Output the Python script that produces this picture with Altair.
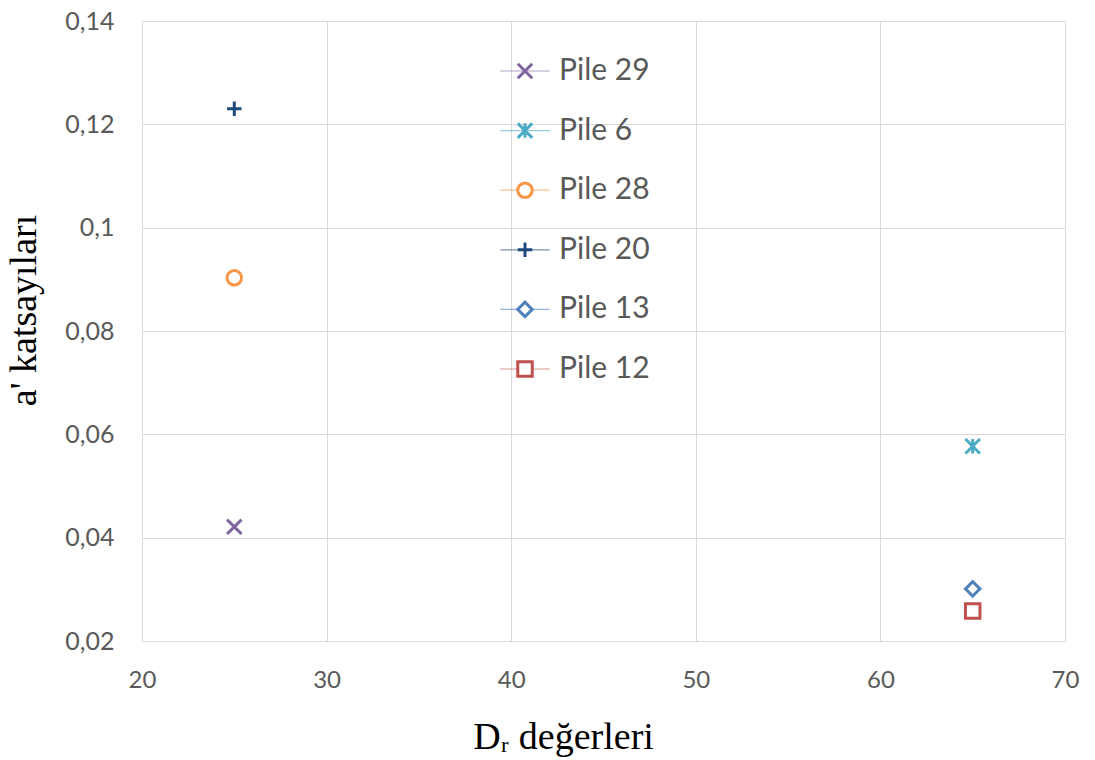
import altair as alt
import pandas as pd

series = ["Pile 29", "Pile 6", "Pile 28", "Pile 20", "Pile 13", "Pile 12"]
dr_values = [25, 65, 25, 25, 65, 65]
a_values = [0.0421, 0.0577, 0.0903, 0.1230, 0.0301, 0.0258]
colors = ["#8064a2", "#4bacc6", "#f79646", "#1f497d", "#4f81bd", "#c0504d"]
shapes = [
    "M-1,-1L1,1M-1,1L1,-1",
    "M-1,-1L1,1M-1,1L1,-1M0,-1L0,1",
    "circle",
    "M-1,0L1,0M0,-1L0,1",
    "diamond",
    "square",
]
line_shapes = [
    "M-3.4,0L3.4,0",
    "M-3.4,0L3.4,0",
    "M-3.4,0L-1,0M1,0L3.4,0",
    "M-3.4,0L3.4,0",
    "M-3.4,0L-1,0M1,0L3.4,0",
    "M-3.4,0L-1,0M1,0L3.4,0",
]
x_ticks = [20, 30, 40, 50, 60, 70]
y_ticks = [0.02, 0.04, 0.06, 0.08, 0.10, 0.12, 0.14]

df = pd.DataFrame({"series": series, "dr": dr_values, "a": a_values})

LEG_X = 368
LEG_Y = 35
ROW_PAD = 29.6
LABEL_FONT = "Lato"
LEG_FS = 30
MARK_SIZE = 210
MARK_SW = 3

x_enc = alt.X(
    "dr:Q",
    scale=alt.Scale(domain=[20, 70], nice=False, zero=False),
    axis=alt.Axis(
        values=x_ticks,
        title="Dᵣ değerleri",
        titleFont="Liberation Serif",
        titleFontSize=38,
        titleFontWeight="normal",
        titleColor="#000000",
        titleX=421,
        titleY=107,
        titleBaseline="alphabetic",
        labelFont=LABEL_FONT,
        labelFontSize=24,
        labelColor="#595959",
        labelPadding=27,
        labelFlush=False,
        ticks=False,
        domain=False,
        gridColor="#d9d9d9",
        gridWidth=1,
    ),
)
y_enc = alt.Y(
    "a:Q",
    scale=alt.Scale(domain=[0.02, 0.14], nice=False, zero=False),
    axis=alt.Axis(
        values=y_ticks,
        title="a' katsayıları",
        titleFont="Liberation Serif",
        titleFontSize=38,
        titleFontWeight="normal",
        titleColor="#000000",
        titleAngle=-90,
        titleX=-107,
        titleY=289,
        titleAlign="center",
        titleBaseline="alphabetic",
        labelExpr="replace(format(datum.value, '.2~f'), '.', ',')",
        labelFont=LABEL_FONT,
        labelFontSize=25,
        labelColor="#595959",
        labelPadding=28,
        labelFlush=False,
        ticks=False,
        domain=False,
        gridColor="#d9d9d9",
        gridWidth=1,
    ),
)


def line_legend():
    return alt.Legend(
        orient="none",
        legendX=LEG_X,
        legendY=LEG_Y,
        title=None,
        padding=0,
        symbolSize=MARK_SIZE,
        symbolStrokeWidth=1.2,
        symbolOpacity=0.6,
        labelFont=LABEL_FONT,
        labelFontSize=LEG_FS,
        labelExpr="''",
        labelOffset=19,
        rowPadding=ROW_PAD,
    )


def marker_legend():
    return alt.Legend(
        orient="none",
        legendX=LEG_X,
        legendY=LEG_Y,
        title=None,
        padding=0,
        symbolSize=MARK_SIZE,
        symbolStrokeWidth=MARK_SW,
        symbolOpacity=1,
        labelFont=LABEL_FONT,
        labelFontSize=LEG_FS,
        labelColor="#595959",
        labelOffset=19,
        rowPadding=ROW_PAD,
    )


lines_legend = (
    alt.Chart(df)
    .transform_filter("false")
    .mark_point(filled=False, opacity=1)
    .encode(
        x=x_enc,
        y=y_enc,
        color=alt.Color("series:N", scale=alt.Scale(domain=series, range=colors),
                        legend=line_legend()),
        shape=alt.Shape("series:N", scale=alt.Scale(domain=series, range=line_shapes),
                        legend=line_legend()),
    )
)

points = (
    alt.Chart(df)
    .mark_point(filled=False, opacity=1, strokeWidth=MARK_SW, size=MARK_SIZE)
    .encode(
        x=x_enc,
        y=y_enc,
        color=alt.Color("series:N", scale=alt.Scale(domain=series, range=colors),
                        legend=marker_legend()),
        shape=alt.Shape("series:N", scale=alt.Scale(domain=series, range=shapes),
                        legend=marker_legend()),
    )
)

chart = (
    alt.layer(lines_legend, points)
    .resolve_scale(color="independent", shape="independent")
    .properties(
        width=923,
        height=620,
        autosize=alt.AutoSizeParams(type="none"),
        padding={"left": 142, "top": 21, "right": 30, "bottom": 119},
        background="white",
    )
    .configure_view(stroke=None)
)

chart.save("out.html", embed_options={"renderer": "svg", "actions": False})
